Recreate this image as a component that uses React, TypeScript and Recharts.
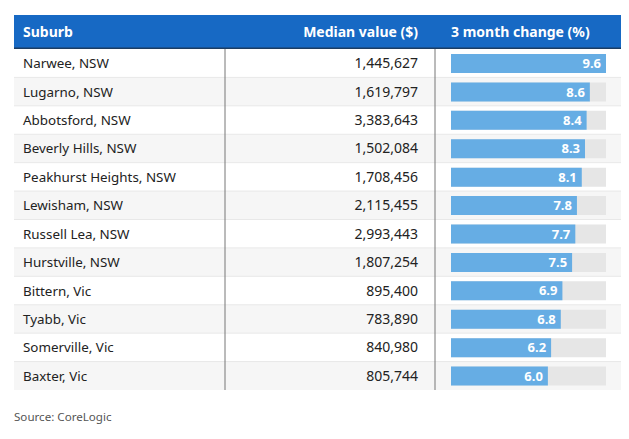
import React from 'react';
import { BarChart, Bar, XAxis, YAxis, LabelList } from 'recharts';

const suburbs = [
  'Narwee, NSW',
  'Lugarno, NSW',
  'Abbotsford, NSW',
  'Beverly Hills, NSW',
  'Peakhurst Heights, NSW',
  'Lewisham, NSW',
  'Russell Lea, NSW',
  'Hurstville, NSW',
  'Bittern, Vic',
  'Tyabb, Vic',
  'Somerville, Vic',
  'Baxter, Vic',
];
const medianValues = [
  1445627, 1619797, 3383643, 1502084, 1708456, 2115455, 2993443, 1807254,
  895400, 783890, 840980, 805744,
];
const changes = [9.6, 8.6, 8.4, 8.3, 8.1, 7.8, 7.7, 7.5, 6.9, 6.8, 6.2, 6.0];
const headers = ['Suburb', 'Median value ($)', '3 month change (%)'];

const W = 629;
const H = 439;
const FONT = '"Noto Sans", sans-serif';
const TABLE_LEFT = 14;
const TABLE_RIGHT = 621;
const HEADER_TOP = 15;
const BODY_TOP = 49;
const BODY_BOTTOM = 390;
const COL1_X = 225;
const COL2_X = 435;
const BAR_LEFT = 451;
const BAR_RIGHT = 606;

const data = suburbs.map((suburb, i) => ({
  suburb,
  median: medianValues[i],
  change: changes[i],
}));

const rowH = (BODY_BOTTOM - BODY_TOP) / data.length;

const RowTick = ({ y, payload, index }: any) => {
  const row = data.find((d) => d.suburb === payload.value) ?? data[index];
  return (
    <g>
      <text
        x={23}
        y={y}
        dy={5}
        fill='#222'
        fontSize={13.4}
        fontFamily={FONT}
      >
        {row.suburb}
      </text>
      <text
        x={418}
        y={y}
        dy={5}
        fill='#222'
        fontSize={14}
        fontFamily={FONT}
        textAnchor='end'
      >
        {row.median.toLocaleString('en-US')}
      </text>
    </g>
  );
};

export default function App() {
  return (
    <div
      style={{
        position: 'absolute',
        left: 0,
        top: 0,
        width: W,
        height: H,
        background: '#fff',
        fontFamily: FONT,
      }}
    >
      {/* table frame: header and striped rows */}
      <svg
        width={W}
        height={H}
        style={{ position: 'absolute', left: 0, top: 0 }}
      >
        <rect
          x={TABLE_LEFT}
          y={HEADER_TOP}
          width={TABLE_RIGHT - TABLE_LEFT}
          height={BODY_TOP - HEADER_TOP}
          fill='#1769c4'
        />
        <rect
          x={TABLE_LEFT}
          y={BODY_TOP - 1.5}
          width={TABLE_RIGHT - TABLE_LEFT}
          height={1.5}
          fill='#1c3d63'
        />
        {data.map((d, i) => (
          <g key={d.suburb}>
            <rect
              x={TABLE_LEFT}
              y={BODY_TOP + i * rowH}
              width={TABLE_RIGHT - TABLE_LEFT}
              height={rowH}
              fill={i % 2 === 0 ? '#ffffff' : '#f6f6f6'}
            />
            {i > 0 && (
              <line
                x1={TABLE_LEFT}
                x2={TABLE_RIGHT}
                y1={BODY_TOP + i * rowH}
                y2={BODY_TOP + i * rowH}
                stroke='#e8e8e8'
              />
            )}
          </g>
        ))}
        <line
          x1={COL1_X}
          x2={COL1_X}
          y1={BODY_TOP}
          y2={BODY_BOTTOM}
          stroke='#777'
        />
        <line
          x1={COL2_X}
          x2={COL2_X}
          y1={BODY_TOP}
          y2={BODY_BOTTOM}
          stroke='#777'
        />
        <text
          x={23}
          y={37}
          fill='#fff'
          fontSize={14}
          fontWeight={700}
          fontFamily={FONT}
        >
          {headers[0]}
        </text>
        <text
          x={418}
          y={37}
          fill='#fff'
          fontSize={14}
          fontWeight={700}
          fontFamily={FONT}
          textAnchor='end'
        >
          {headers[1]}
        </text>
        <text
          x={451}
          y={37}
          fill='#fff'
          fontSize={14}
          fontWeight={700}
          fontFamily={FONT}
        >
          {headers[2]}
        </text>
        <text
          x={TABLE_LEFT}
          y={421}
          fill='#555'
          fontSize={11.6}
          fontFamily={FONT}
        >
          Source: CoreLogic
        </text>
      </svg>

      <div style={{ position: 'absolute', left: 0, top: 0 }}>
        <BarChart
          width={W}
          height={H}
          data={data}
          layout='vertical'
          margin={{
            top: BODY_TOP,
            bottom: H - BODY_BOTTOM,
            left: 0,
            right: W - BAR_RIGHT,
          }}
        >
          <XAxis
            type='number'
            dataKey='change'
            domain={[0, Math.max(...changes)]}
            hide
          />
          <YAxis
            type='category'
            dataKey='suburb'
            width={BAR_LEFT}
            axisLine={false}
            tickLine={false}
            tick={<RowTick />}
            interval={0}
          />
          <Bar
            dataKey='change'
            fill='#66ade4'
            barSize={19}
            background={{ fill: '#e6e6e6' }}
            isAnimationActive={false}
          >
            <LabelList
              dataKey='change'
              position='insideRight'
              offset={5}
              fill='#fff'
              fontSize={13}
              fontWeight={700}
              fontFamily={FONT}
              formatter={(v: any) => Number(v).toFixed(1)}
            />
          </Bar>
        </BarChart>
      </div>
    </div>
  );
}
